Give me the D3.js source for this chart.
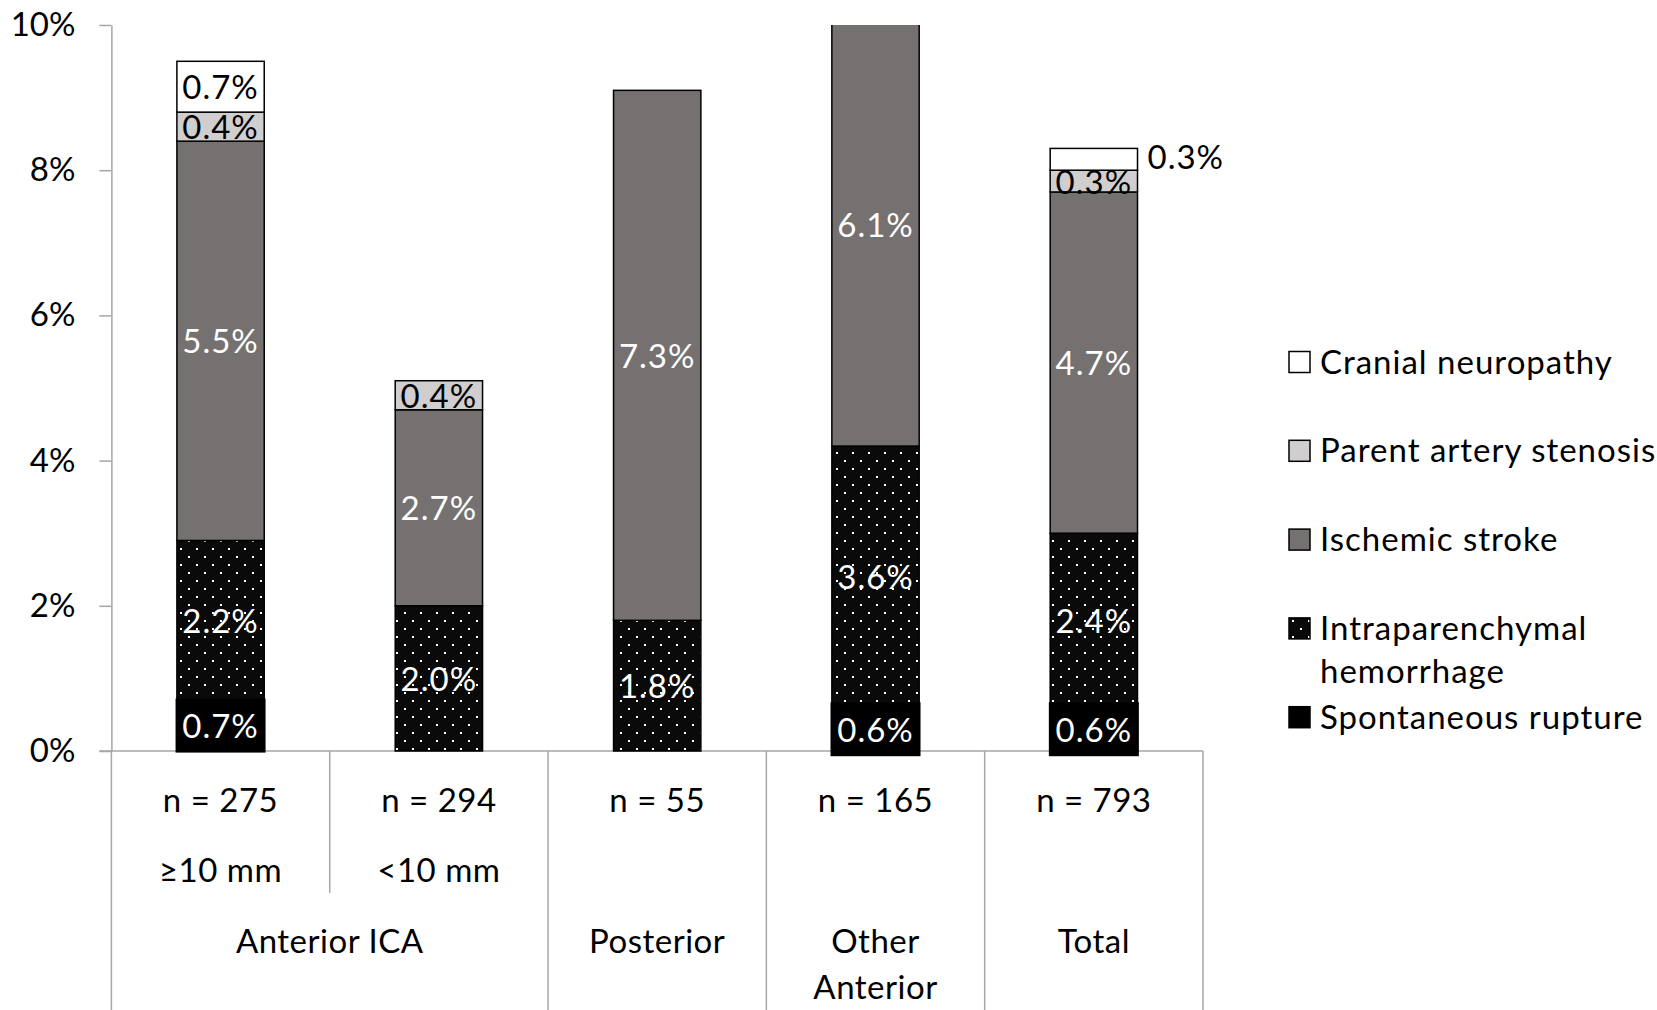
<!DOCTYPE html>
<html>
<head>
<meta charset="utf-8">
<script src="https://cdn.jsdelivr.net/npm/d3@7"></script>
<style>
  body { margin: 0; background: #fff; }
  svg { display: block; font-family: Lato, 'Open Sans', sans-serif; }
</style>
</head>
<body>
<svg id="chart" width="1657" height="1010"></svg>
<script>
// data (percent)
const nLabels = ['n = 275', 'n = 294', 'n = 55', 'n = 165', 'n = 793'];
const sizeLabels = ['≥10 mm', '<10 mm', '', '', ''];
const groups = ['Anterior ICA', 'Anterior ICA', 'Posterior', 'Other Anterior', 'Total'];

const seriesNames = ['Spontaneous rupture', 'Intraparenchymal hemorrhage', 'Ischemic stroke', 'Parent artery stenosis', 'Cranial neuropathy'];
const spontaneous = [0.7, 0, 0, 0.6, 0.6];
const hemorrhage = [2.2, 2.0, 1.8, 3.6, 2.4];
const ischemic = [5.5, 2.7, 7.3, 6.1, 4.7];
const stenosis = [0.4, 0.4, 0, 0, 0.3];
const cranial = [0.7, 0, 0, 0, 0.3];

const yTicks = [0, 2, 4, 6, 8, 10];

const fills = ['#000', 'url(#dots)', '#767171', '#d0cece', '#fff'];
const labelColors = ['#fff', '#fff', '#fff', '#000', '#000'];

const width = 1657, height = 1010;
const plot = { left: 111.4, right: 1203, top: 25, bottom: 751 };
const fontSize = 33;

const svg = d3.select('#chart');
const defs = svg.append('defs');

const pat = defs.append('pattern')
  .attr('id', 'dots')
  .attr('patternUnits', 'userSpaceOnUse')
  .attr('width', 16)
  .attr('height', 16);
pat.append('rect').attr('width', 16).attr('height', 16).attr('fill', '#0a0a0a');
pat.append('rect').attr('x', 4).attr('y', 4).attr('width', 2).attr('height', 2).attr('fill', '#fff');
pat.append('rect').attr('x', 12).attr('y', 12).attr('width', 2).attr('height', 2).attr('fill', '#fff');

defs.append('clipPath').attr('id', 'plotClip')
  .append('rect')
  .attr('x', plot.left).attr('y', plot.top)
  .attr('width', plot.right - plot.left).attr('height', plot.bottom - plot.top + 20);

const rows = nLabels.map((n, i) => ({
  idx: i,
  s0: spontaneous[i], s1: hemorrhage[i], s2: ischemic[i], s3: stenosis[i], s4: cranial[i]
}));
const keys = ['s0', 's1', 's2', 's3', 's4'];
const stacked = d3.stack().keys(keys)(rows);

const x = d3.scaleBand()
  .domain(d3.range(nLabels.length))
  .range([plot.left, plot.right])
  .paddingInner(0.6)
  .paddingOuter(0.3);

const y = d3.scaleLinear()
  .domain([0, 10])
  .range([plot.bottom, plot.top]);

// y axis
const yAxis = svg.append('g')
  .attr('transform', `translate(${plot.left},0)`)
  .call(d3.axisLeft(y).tickValues(yTicks).tickFormat(d => d + '%').tickSize(12).tickPadding(24).tickSizeOuter(0));
yAxis.selectAll('path, line').attr('stroke', '#a6a6a6').attr('stroke-width', 1.5);
yAxis.selectAll('text').attr('font-size', fontSize).attr('fill', '#000').attr('font-family', 'Lato');

// category table lines
const step = x.step();
const grid = svg.append('g').attr('stroke', '#a6a6a6').attr('stroke-width', 1.5);
grid.append('line')
  .attr('x1', plot.left - 12).attr('x2', plot.right)
  .attr('y1', y(0)).attr('y2', y(0));
d3.range(nLabels.length + 1).forEach(k => {
  const xx = plot.left + k * step;
  const inner = k > 0 && k < nLabels.length && groups[k] === groups[k - 1];
  grid.append('line')
    .attr('x1', xx).attr('x2', xx)
    .attr('y1', y(0)).attr('y2', inner ? 893 : height);
});

// bars
const bars = svg.append('g').attr('clip-path', 'url(#plotClip)');
stacked.forEach((layer, si) => {
  bars.selectAll(null)
    .data(layer.filter(d => d[1] - d[0] > 0))
    .enter()
    .append('rect')
    .attr('x', d => x(d.data.idx))
    .attr('width', x.bandwidth())
    .attr('y', d => y(d[1]))
    .attr('height', d => y(d[0]) - y(d[1]))
    .attr('fill', fills[si])
    .attr('stroke', '#000')
    .attr('stroke-width', 1.5);
});

// labels
const labels = svg.append('g').attr('font-size', fontSize).attr('font-family', 'Lato').attr('letter-spacing', 1);
stacked.forEach((layer, si) => {
  layer.filter(d => d[1] - d[0] > 0).forEach(d => {
    const i = d.data.idx;
    const cy = y(Math.min((d[0] + d[1]) / 2, 10));
    const cx = x(i) + x.bandwidth() / 2;
    const txt = (d[1] - d[0]).toFixed(1) + '%';
    if (si === 0) {
      labels.append('rect')
        .attr('x', cx - 45).attr('width', 90)
        .attr('y', cy - 27).attr('height', 54)
        .attr('fill', '#000');
    }
    // top segment of the total bar sits outside on the right
    if (si === 4 && i === nLabels.length - 1) {
      labels.append('text')
        .attr('x', x(i) + x.bandwidth() + 10)
        .attr('y', cy)
        .attr('dy', '0.3em')
        .attr('fill', '#000')
        .text(txt);
      return;
    }
    labels.append('text')
      .attr('x', cx)
      .attr('y', cy)
      .attr('dy', '0.38em')
      .attr('text-anchor', 'middle')
      .attr('fill', labelColors[si])
      .text(txt);
  });
});

// category labels
const cat = svg.append('g').attr('font-size', fontSize).attr('font-family', 'Lato')
  .attr('letter-spacing', 0.5).attr('text-anchor', 'middle').attr('fill', '#000');
nLabels.forEach((n, i) => {
  const cx = x(i) + x.bandwidth() / 2;
  cat.append('text').attr('x', cx).attr('y', 812).text(n);
  if (sizeLabels[i]) cat.append('text').attr('x', cx).attr('y', 882).text(sizeLabels[i]);
});
const groupNames = Array.from(new Set(groups));
groupNames.forEach(g => {
  const idx = groups.map((v, i) => v === g ? i : -1).filter(i => i >= 0);
  const cx = (x(idx[0]) + x(idx[idx.length - 1]) + x.bandwidth()) / 2;
  const words = (idx.length === 1 && g.includes(' ')) ? g.split(' ') : [g];
  words.forEach((w, j) => {
    cat.append('text').attr('x', cx).attr('y', 953 + j * 46).text(w);
  });
});

// legend
const legend = svg.append('g').attr('font-size', fontSize).attr('font-family', 'Lato').attr('letter-spacing', 1);
const legendOrder = [4, 3, 2, 1, 0];
legendOrder.forEach((si, r) => {
  const cy = 362 + r * 88.8;
  legend.append('rect')
    .attr('x', 1289).attr('y', cy - 10.5)
    .attr('width', 21).attr('height', 21)
    .attr('fill', fills[si])
    .attr('stroke', '#000').attr('stroke-width', 1.5);
  const name = seriesNames[si];
  const lines = si === 1 ? ['Intraparenchymal', 'hemorrhage'] : [name];
  lines.forEach((ln, j) => {
    legend.append('text')
      .attr('x', 1320)
      .attr('y', cy + j * 43.5)
      .attr('dy', '0.35em')
      .attr('fill', '#000')
      .text(ln);
  });
});
</script>
</body>
</html>
